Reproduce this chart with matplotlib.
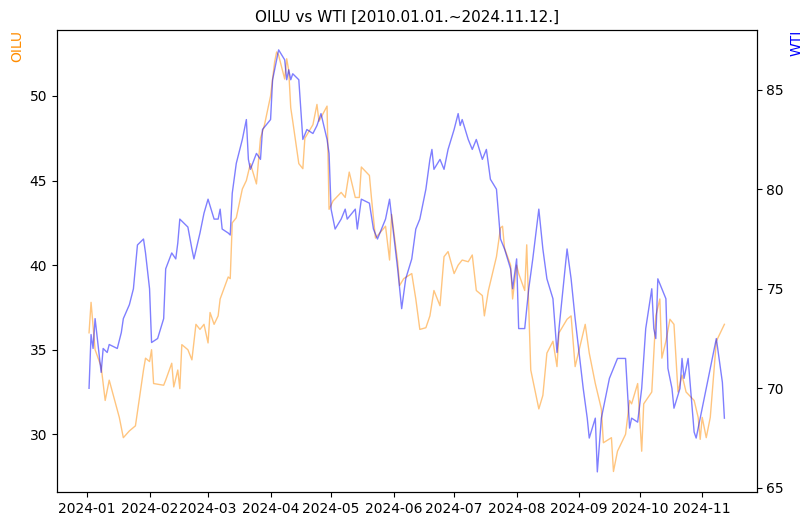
import pandas as pd
import matplotlib
matplotlib.use("Agg")
import matplotlib.pyplot as plt

oilu_dates = ["01-02","01-03","01-05","01-08","01-10","01-12","01-17","01-19","01-22","01-25","01-29","01-30",
    "02-01","02-02","02-03","02-08","02-09","02-12","02-13","02-15","02-16","02-17","02-20","02-22","02-24","02-26","02-28",
    "03-01","03-02","03-04","03-06","03-07","03-11","03-12","03-13","03-15","03-18","03-20","03-22","03-25","03-27","03-29",
    "04-01","04-03","04-04","04-05","04-08","04-09","04-10","04-11","04-12","04-15","04-17","04-18","04-22","04-24","04-25","04-29","04-30",
    "05-02","05-06","05-08","05-10","05-13","05-15","05-16","05-20","05-21","05-23","05-28","05-30","05-31",
    "06-03","06-04","06-06","06-10","06-12","06-14","06-17","06-19","06-21","06-24","06-26","06-28",
    "07-01","07-03","07-05","07-08","07-10","07-12","07-15","07-16","07-18","07-22","07-24","07-25","07-26","07-29","07-30",
    "08-01","08-02","08-05","08-06","08-08","08-12","08-14","08-16","08-19","08-21","08-22","08-26","08-28","08-30",
    "09-03","09-04","09-06","09-09","09-12","09-13","09-17","09-18","09-20","09-24","09-26","09-27","09-30",
    "10-02","10-03","10-07","10-09","10-11","10-12","10-14","10-16","10-18","10-20","10-22","10-24","10-28","10-30","10-31",
    "11-01","11-03","11-05","11-07","11-08","11-12"]
oilu_values = [36,37.8,35,34,32,33.2,31,29.8,30.2,30.5,33.8,34.5,
    34.3,35,33,32.9,33.2,34.2,32.8,33.8,32.7,35.3,35,34.4,36.5,36.2,36.5,
    35.4,37.2,36.5,37,38,39.3,39.2,42.5,42.8,44.5,45,46,44.8,47.5,48.3,
    50,52,52.6,52.4,51,52.2,51.5,49.3,48.5,46,45.7,47.5,48.3,49.5,48.5,49.4,43.3,
    43.8,44.3,44,45.5,44,44,45.8,45.3,44,41.6,42.3,40.3,43,
    40.2,38.8,39.2,39.5,38,36.2,36.3,37,38.5,37.6,40.5,40.8,
    39.5,40,40.3,40.2,40.6,38.5,38.2,37,38.5,40.5,42.2,42.3,41,40,38,
    40,39.5,38.5,41.2,33.8,31.5,32.3,34.8,35.5,34,36,36.8,37,34,
    36,36.5,34.8,33,31.5,29.5,29.8,27.8,29,30,32,31.8,33,
    29,31.8,32.5,37,38,34.5,35.5,36.8,36.5,32.5,33.5,32.5,32,31,29.7,
    31,29.8,31,34,35.5,36.5]

wti_dates = ["01-02","01-03","01-04","01-05","01-08","01-09","01-11","01-12","01-16","01-18","01-19","01-22","01-24","01-26","01-29","01-30",
    "02-01","02-02","02-05","02-08","02-09","02-12","02-14","02-15","02-16","02-20","02-22","02-23","02-26","02-28",
    "03-01","03-04","03-06","03-07","03-08","03-11","03-12","03-13","03-15","03-18","03-20","03-21","03-22","03-25","03-27","03-28",
    "04-01","04-02","04-04","04-05","04-08","04-09","04-10","04-11","04-12","04-15","04-17","04-19","04-22","04-24","04-26","04-29","04-30",
    "05-01","05-03","05-06","05-08","05-09","05-13","05-14","05-16","05-20","05-22","05-24","05-28","05-30",
    "06-03","06-05","06-07","06-10","06-12","06-14","06-17","06-19","06-20","06-21","06-24","06-26","06-28",
    "07-01","07-03","07-04","07-05","07-08","07-10","07-12","07-15","07-17","07-19","07-22","07-24","07-26","07-29","07-30",
    "08-01","08-02","08-05","08-07","08-09","08-12","08-13","08-14","08-16","08-19","08-21","08-22","08-26","08-28","08-30",
    "09-03","09-05","09-06","09-09","09-10","09-12","09-13","09-16","09-18","09-20","09-24","09-26","09-27","09-30",
    "10-02","10-04","10-07","10-08","10-09","10-10","10-14","10-15","10-17","10-18","10-21","10-22","10-23","10-25","10-28","10-29",
    "11-01","11-04","11-06","11-08","11-11","11-12"]
wti_values = [70,72.7,72,73.5,70.8,72,71.8,72.2,72,72.8,73.5,74.2,75,77.2,77.5,76.8,
    75,72.3,72.5,73.5,76,76.8,76.5,77.3,78.5,78.1,77,76.5,77.8,78.8,
    79.5,78.5,78.5,79,78,77.8,77.7,79.8,81.3,82.5,83.5,81.5,81,81.8,81.5,83,
    83.5,85.5,86.5,87,86.5,85.5,86,85.5,85.8,85.5,82.5,83,82.8,83.2,83.8,82.5,81.8,
    79,78,78.5,79,78.5,79,78,79.5,79.3,78,77.5,78.5,79.5,
    76,74,75.5,76.5,78,78.5,80,81.5,82,81,81.5,81,82,
    83,83.8,83.2,83.5,82.5,82,82.5,81.5,82,80.5,80,77.5,77,76,75,
    76.5,73,73,75,76.5,79,78,77,75.5,74.5,71.8,73,77,75.5,73.5,
    70,68.5,67.5,68.5,65.8,68.5,69,70.5,71,71.5,71.5,68,68.5,68.3,
    70,73,75,73,72.5,75.5,74.5,71,70,69,70,71.5,70.5,71.5,67.8,67.5,
    69,70.5,71.5,72.5,70.3,68.5]

oilu = pd.Series(oilu_values, index=pd.to_datetime(["2024-" + d for d in oilu_dates]))
wti = pd.Series(wti_values, index=pd.to_datetime(["2024-" + d for d in wti_dates]))

fig = plt.figure(figsize=(8.11, 5.26), dpi=100)
ax1 = fig.add_axes([0.070, 0.065, 0.863, 0.878])
ax1.plot(oilu.index, oilu.values, color="darkorange", alpha=0.5, lw=1)
ax1.set_ylim(26.6, 53.9)
ax1.set_ylabel("OILU", color="darkorange", loc="top")
ax1.set_title("OILU vs WTI [2010.01.01.~2024.11.12.]", fontsize=11)

ax2 = ax1.twinx()
ax2.plot(wti.index, wti.values, color="blue", alpha=0.5, lw=1)
ax2.set_ylim(64.8, 88.0)
ax2.set_ylabel("WTI", color="blue", loc="top")

ax1.set_xlim(pd.Timestamp("2023-12-17"), pd.Timestamp("2024-11-28"))
fig.savefig("out.png", dpi=100)
